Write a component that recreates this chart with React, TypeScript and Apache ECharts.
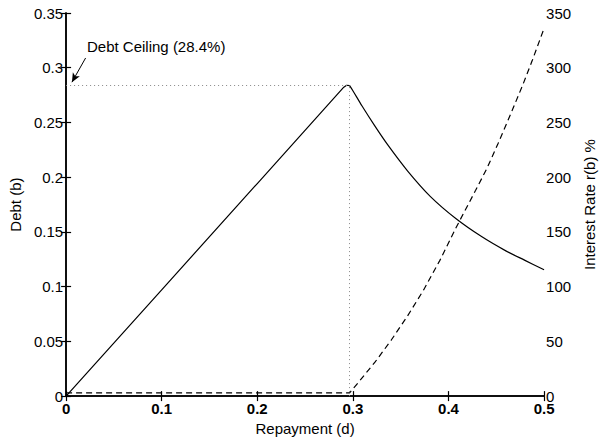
import React, { useEffect, useRef } from "react";
import * as echarts from "echarts";

// Debt level b as a function of repayment d
const debtD = [0, 0.1, 0.2, 0.2905, 0.2935, 0.2966, 0.3, 0.3096, 0.3231, 0.3367, 0.3571, 0.3809, 0.408, 0.435, 0.46, 0.48, 0.5];
const debtB = [0, 0.0971, 0.1942, 0.2822, 0.284, 0.2836, 0.279, 0.265, 0.2466, 0.2292, 0.2058, 0.1825, 0.162, 0.1455, 0.1327, 0.124, 0.1154];

// Interest rate r(b) in percent
const rateD = [0, 0.2966, 0.3062, 0.3231, 0.34, 0.357, 0.374, 0.391, 0.408, 0.4284, 0.4402, 0.452, 0.4657, 0.4776, 0.4878, 0.5];
const rateR = [3, 3, 13, 31, 51, 73, 97, 124, 154, 188, 208, 231, 259, 284, 307, 336];

// Debt ceiling annotation
const ceilingD = 0.2966;
const ceilingB = 0.284;
const ceilingLabel = "Debt Ceiling (28.4%)";
const arrowFrom = [0.0204, 0.3089];
const arrowTo = [0.0061, 0.2868];

const FONT = '"Liberation Sans", Arial, Helvetica, sans-serif';
const FS = 15;

const fmt = (v: number) => String(+v.toFixed(2));

export default function App() {
  const ref = useRef<HTMLDivElement>(null);

  useEffect(() => {
    if (!ref.current) return;
    const chart = echarts.init(ref.current, null, { renderer: "svg" });

    const axisLine = { show: true, lineStyle: { color: "#000", width: 1.5 } };
    const tick = { show: true, inside: true, length: 5, lineStyle: { color: "#000", width: 1.2 } };
    const nameStyle = { color: "#000", fontSize: FS, fontFamily: FONT };

    const debtPts = debtD.map((d, i) => [d, debtB[i]]);
    const peak = debtD.indexOf(ceilingD);
    const debtStyle = { color: "#000", width: 1.2 };

    chart.setOption({
      animation: false,
      backgroundColor: "#fff",
      textStyle: { fontFamily: FONT },
      grid: { left: 66, right: 48, top: 13, bottom: 42, containLabel: false },
      xAxis: [
        {
          type: "value",
          position: "bottom",
          min: 0,
          max: 0.5,
          interval: 0.1,
          axisLine,
          axisTick: tick,
          splitLine: { show: false },
          axisLabel: { color: "#000", fontSize: FS, fontWeight: "bold", fontFamily: FONT, margin: 5, formatter: fmt },
          name: "Repayment (d)",
          nameLocation: "middle",
          nameGap: 22,
          nameTextStyle: nameStyle,
        },
        {
          type: "value",
          position: "top",
          min: 0,
          max: 0.5,
          interval: 0.1,
          axisLine,
          axisTick: tick,
          splitLine: { show: false },
          axisLabel: { show: false },
        },
      ],
      yAxis: [
        {
          type: "value",
          position: "left",
          min: 0,
          max: 0.35,
          interval: 0.05,
          axisLine,
          axisTick: tick,
          splitLine: { show: false },
          axisLabel: { color: "#000", fontSize: FS, fontFamily: FONT, margin: 3, formatter: fmt },
          name: "Debt (b)",
          nameLocation: "middle",
          nameRotate: 90,
          nameGap: 38,
          nameTextStyle: nameStyle,
        },
        {
          type: "value",
          position: "right",
          min: 0,
          max: 350,
          interval: 50,
          axisLine,
          axisTick: tick,
          splitLine: { show: false },
          axisLabel: { color: "#000", fontSize: FS, fontFamily: FONT, margin: 2 },
          name: "Interest Rate r(b) %",
          nameLocation: "middle",
          nameRotate: 90,
          nameGap: 30,
          nameTextStyle: nameStyle,
        },
      ],
      series: [
        {
          // straight rise up to the ceiling
          name: "Debt",
          type: "line",
          xAxisIndex: 0,
          yAxisIndex: 0,
          data: debtPts.slice(0, peak + 1),
          showSymbol: false,
          symbol: "none",
          lineStyle: debtStyle,
          z: 3,
          markLine: {
            silent: true,
            symbol: ["none", "none"],
            label: { show: false },
            data: [
              [
                { coord: [0, ceilingB], lineStyle: { color: "#888", width: 1, type: [1, 3] } },
                { coord: [ceilingD, ceilingB] },
              ],
              [
                { coord: [ceilingD, 0], lineStyle: { color: "#888", width: 1, type: [1, 3] } },
                { coord: [ceilingD, ceilingB] },
              ],
              [
                { coord: arrowFrom, symbol: "none", lineStyle: { color: "#000", width: 1, type: "solid" } },
                { coord: arrowTo, symbol: "arrow", symbolSize: [6, 9] },
              ],
            ],
          },
        },
        {
          // smooth decline past the ceiling
          name: "Debt",
          type: "line",
          xAxisIndex: 0,
          yAxisIndex: 0,
          data: debtPts.slice(peak),
          showSymbol: false,
          symbol: "none",
          smooth: 0.3,
          lineStyle: debtStyle,
          z: 3,
        },
        {
          name: "Interest Rate",
          type: "line",
          xAxisIndex: 0,
          yAxisIndex: 1,
          data: rateD.map((d, i) => [d, rateR[i]]),
          showSymbol: false,
          symbol: "none",
          lineStyle: { color: "#000", width: 1.2, type: [6, 4] },
          z: 3,
        },
      ],
      graphic: [
        {
          type: "text",
          left: 87,
          top: 39,
          style: { text: ceilingLabel, fill: "#000", font: `${FS}px ${FONT}` },
        },
      ],
    });

    return () => chart.dispose();
  }, []);

  return (
    <div
      ref={ref}
      style={{ position: "fixed", left: 0, top: 0, width: 605, height: 441, background: "#fff" }}
    />
  );
}
